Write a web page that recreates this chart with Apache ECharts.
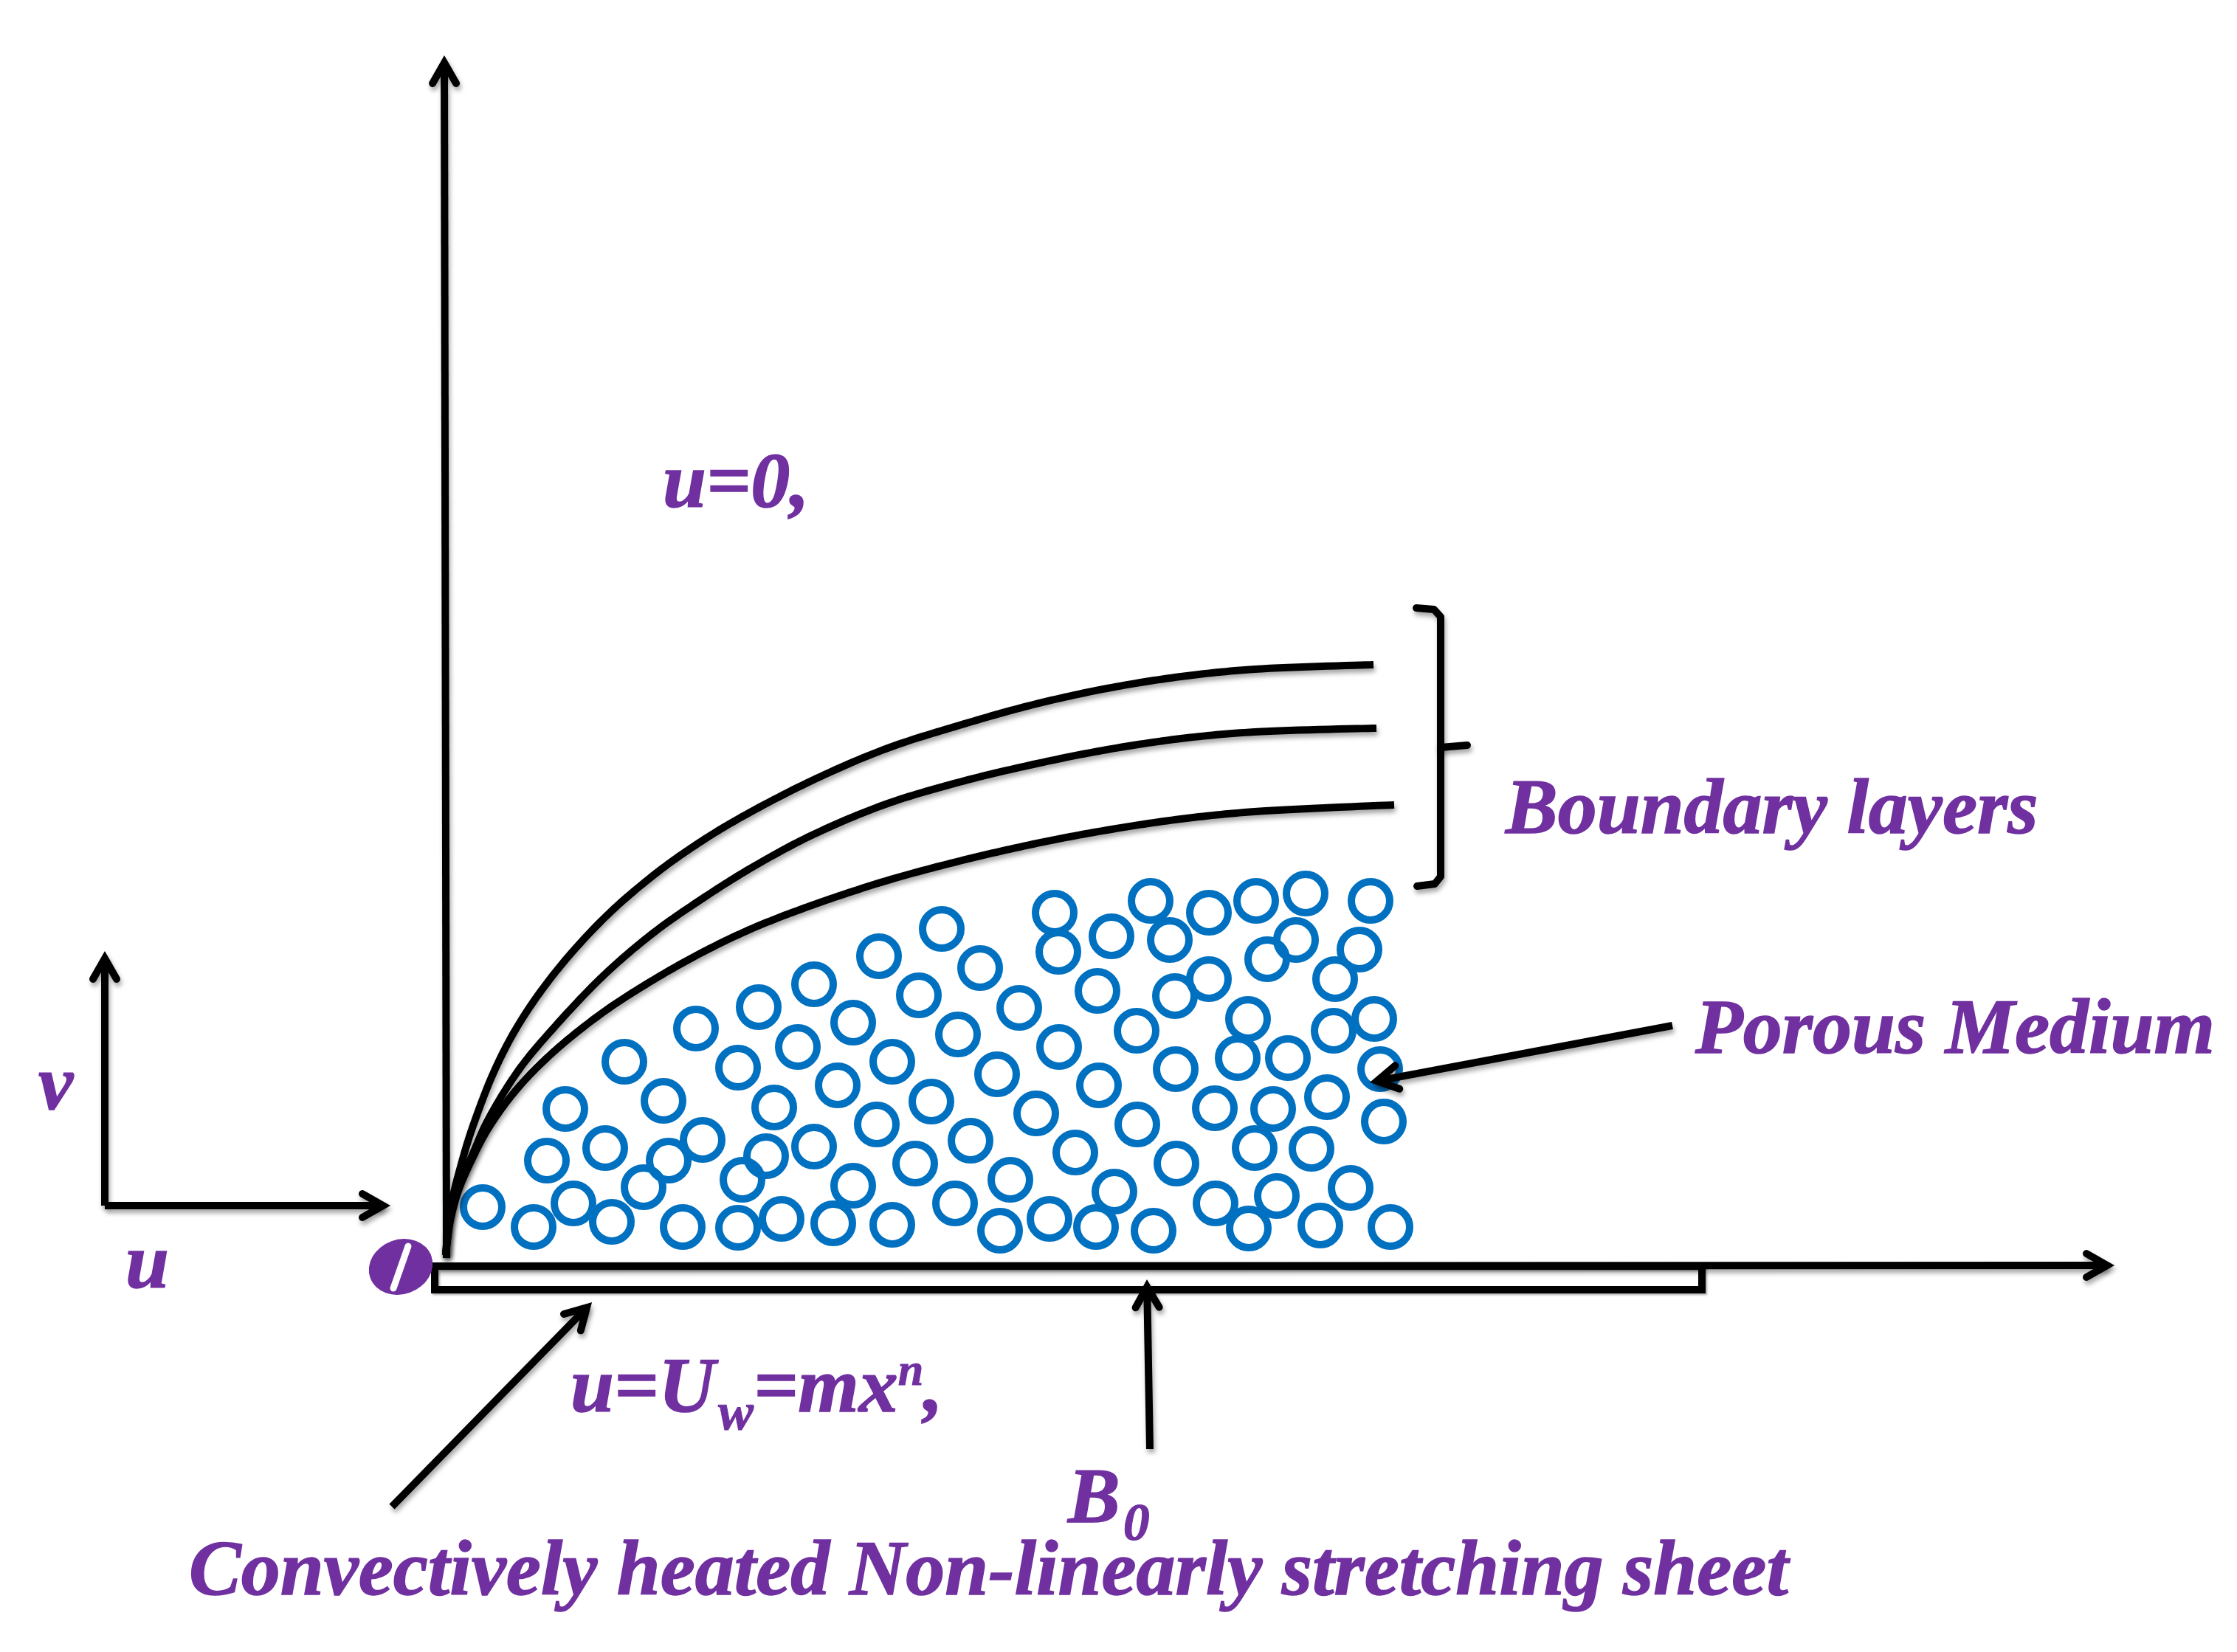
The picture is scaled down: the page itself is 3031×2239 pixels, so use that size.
<!DOCTYPE html>
<html><head><meta charset="utf-8">
<style>html,body{margin:0;padding:0;background:#fff}#c{width:3031px;height:2239px}</style>
<script src="https://cdn.jsdelivr.net/npm/echarts@6/dist/echarts.min.js"></script>
</head><body><div id="c"></div>
<script>
const poreCentres = [
[1429,1237],[1559,1221],[1638,1237],[1702,1221],[1769,1211],[1857,1221],
[1434,1290],[1506,1269],[1585,1274],[1717,1300],[1756,1274],[1842,1287],
[1276,1259],[1328,1312],[1191,1296],[1103,1334],[1028,1365],[1245,1349],[1156,1386],[1081,1419],
[1381,1366],[1487,1343],[1592,1350],[1638,1327],[1809,1327],[1298,1402],[1540,1397],[1691,1381],[1807,1397],[1862,1381],
[1435,1419],[1209,1439],[1000,1447],[1135,1471],[1351,1456],[1489,1471],[1593,1449],[1677,1434],[1745,1434],[1870,1449],
[1049,1501],[1262,1493],[1404,1509],[1646,1502],[1725,1503],[1798,1487],[1875,1520],[1188,1524],[1541,1524],[1315,1546],
[1103,1554],[1038,1567],[1700,1556],[1777,1557],[1457,1562],[1594,1577],[1240,1577],[1156,1607],[1369,1599],[1510,1615],
[1730,1621],[1830,1610],[1006,1599],[1294,1631],[1647,1631],[1059,1652],[1129,1658],[1209,1660],[1422,1652],[1355,1668],
[1485,1663],[1563,1668],[1692,1665],[1789,1661],[1884,1663],[1000,1664],
[654,1636],[723,1663],[777,1631],[829,1656],[741,1573],[820,1556],[872,1609],[906,1573],[952,1545],[766,1503],[899,1492],[846,1439],[943,1394],[925,1663]
];
const layerTop = [[604,1701],[610,1640],[628,1567],[643,1520],[670,1451],[703,1388],[753,1317],[820,1243],[887,1185],[943,1145],[1000,1110],[1100,1058],[1200,1015],[1300,983],[1400,955],[1500,933],[1600,917],[1700,907],[1861,901]];
const layerMid = [[604,1701],[610,1650],[621,1609],[641,1563],[660,1520],[703,1450],[753,1390],[820,1320],[887,1263],[953,1217],[1020,1175],[1100,1132],[1200,1090],[1300,1060],[1400,1036],[1500,1016],[1600,1001],[1700,992],[1865,987]];
const layerLow = [[604,1701],[610,1655],[621,1614],[641,1568],[663,1527],[703,1473],[753,1423],[820,1370],[887,1327],[953,1290],[1020,1258],[1100,1227],[1200,1194],[1300,1167],[1400,1144],[1500,1125],[1600,1110],[1700,1100],[1889,1091]];
const sheetOutline = [[589,1716],[2306,1716],[2306,1748],[589,1748],[589,1716]];
const bracketUpper = [[1919,824],[1943,826],[1952,836],[1952,1013],[1988,1010]];
const bracketLower = [[1952,1008],[1952,1188],[1944,1198],[1920,1201]];
const arrows = [
[605,1705,602,75],[590,1716,2865,1715],[142,1634,142,1289],[142,1634,529,1634],
[531,2042,802,1765],[1558,1964,1554,1734],[2266,1390,1856,1467]
];
const textLabels = [
["u=0,",898,660,106],
["Boundary layers",2040,1102,106],
["Porous Medium",2297,1400,106],
["v",52,1476,106],
["u",170,1718,106],
["{t|u=U}{s|w}{t|=mx}{p|n}{t|,}",773,1886,106],
["{t|B}{s|0}",1447,2036,106],
["Convectively heated Non-linearly stretching sheet",256,2134,106]
];
const originCentre = [543,1717];
const originSlit = [[553,1689],[533,1746]];
const originText = "O";
const purple="#7030A0", blue="#0070C0";
const shadow={shadowColor:"rgba(0,0,0,0.35)",shadowBlur:6,shadowOffsetX:2,shadowOffsetY:5};
const face={fontFamily:"Liberation Serif",fontStyle:"italic",fontWeight:"bold",color:purple,textBorderColor:purple,textBorderWidth:1.5};
function poly(data,w,smooth,cap){return {type:"line",data,symbol:"none",smooth:smooth||false,silent:true,z:3,
  lineStyle:{color:"#000",width:w,cap:cap||"butt",join:"round",...shadow}};}
// centripetal spline through the read points, for a curve as even as the drawn one
function spline(pts){
  const out=[pts[0]],P=[pts[0],...pts,pts[pts.length-1]];
  const d=(a,b)=>Math.max(1e-3,Math.sqrt(Math.hypot(a[0]-b[0],a[1]-b[1])));
  const mix=(a,b,ta,tb,t)=>[0,1].map(k=>(a[k]*(tb-t)+b[k]*(t-ta))/(tb-ta));
  for(let i=1;i<P.length-2;i++){
    const t0=0,t1=t0+d(P[i-1],P[i]),t2=t1+d(P[i],P[i+1]),t3=t2+d(P[i+1],P[i+2]);
    for(let s=1;s<=16;s++){
      const t=t1+(t2-t1)*s/16;
      const a1=mix(P[i-1],P[i],t0,t1,t),a2=mix(P[i],P[i+1],t1,t2,t),a3=mix(P[i+1],P[i+2],t2,t3,t);
      const b1=mix(a1,a2,t0,t2,t),b2=mix(a2,a3,t1,t3,t);
      out.push(mix(b1,b2,t1,t2,t));
    }
  }
  return out;
}
function layerSeries(data){return {type:"custom",data,silent:true,z:3,coordinateSystem:"cartesian2d",
  encode:{x:0,y:1},
  renderItem:(p,api)=>{
    if(p.dataIndex!==0) return null;
    const pts=data.map(d=>api.coord(d));
    return {type:"polyline",shape:{points:spline(pts)},
      style:{stroke:"#000",lineWidth:10,fill:null,lineCap:"butt",lineJoin:"round",...shadow}};
  }};}
const chart=echarts.init(document.getElementById("c"),null,{renderer:"canvas",width:3031,height:2239,devicePixelRatio:1});
chart.setOption({
 animation:false,backgroundColor:"#fff",
 grid:{left:0,right:0,top:0,bottom:0},
 xAxis:{type:"value",min:0,max:3031,show:false},
 yAxis:{type:"value",min:0,max:2239,inverse:true,show:false},
 series:[
  {type:"scatter",data:poreCentres,symbol:"circle",symbolSize:52,silent:true,z:2,
   itemStyle:{color:"rgba(255,255,255,0)",borderColor:blue,borderWidth:10,opacity:1}},
  layerSeries(layerTop),layerSeries(layerMid),layerSeries(layerLow),
  {...poly(sheetOutline,10,false,"square"),lineStyle:{color:"#000",width:10,cap:"square",join:"miter",...shadow,shadowBlur:3,shadowOffsetY:2}},
  poly(bracketUpper,10,false,"round"),poly(bracketLower,10,false,"round"),
  {type:"custom",data:arrows,silent:true,z:4,coordinateSystem:"cartesian2d",
   encode:{x:[0,2],y:[1,3]},
   renderItem:(p,api)=>{
    const a=api.coord([api.value(0),api.value(1)]),b=api.coord([api.value(2),api.value(3)]);
    const ang=Math.atan2(b[1]-a[1],b[0]-a[0]),cx=Math.cos(ang),sy=Math.sin(ang);
    const back=10,L=28,H=16;
    const v=[b[0]-back*cx,b[1]-back*sy];
    const hx=v[0]-L*cx,hy=v[1]-L*sy,nx=-sy*H,ny=cx*H;
    const st={stroke:"#000",lineWidth:10,fill:null,lineCap:"round",lineJoin:"miter",miterLimit:10,...shadow};
    return {type:"group",children:[
     {type:"line",shape:{x1:a[0],y1:a[1],x2:v[0],y2:v[1]},style:{...st,lineCap:"butt"}},
     {type:"polyline",shape:{points:[[hx+nx,hy+ny],v,[hx-nx,hy-ny]]},style:st}
    ]};
   }},
  {type:"scatter",symbolSize:1,silent:true,z:5,itemStyle:{color:"rgba(0,0,0,0)",opacity:1},
   data:textLabels.map(t=>({value:[t[1],t[2]],
    label:{show:true,position:"inside",align:"left",verticalAlign:"middle",formatter:t[0],
      ...face,fontSize:t[3],
      rich:{t:{...face,fontSize:t[3],lineHeight:136,verticalAlign:"middle"},
            s:{...face,fontSize:72,lineHeight:136,verticalAlign:"bottom",padding:[0,0,0,4],textBorderWidth:1},
            p:{...face,fontSize:62,lineHeight:136,verticalAlign:"top",padding:[12,0,0,0],textBorderWidth:1}}}}))},
  {type:"scatter",symbol:"circle",symbolSize:[88,74],symbolRotate:20,silent:true,z:5,
   itemStyle:{color:purple,opacity:1},
   data:[{value:originCentre,
    label:{show:true,position:"inside",align:"center",verticalAlign:"middle",formatter:originText,
      ...face,fontSize:56,textBorderWidth:0}}]},
  {type:"line",data:originSlit,symbol:"none",silent:true,z:6,
   lineStyle:{color:"#fff",width:9,cap:"round"}}
 ]
});
</script></body></html>
